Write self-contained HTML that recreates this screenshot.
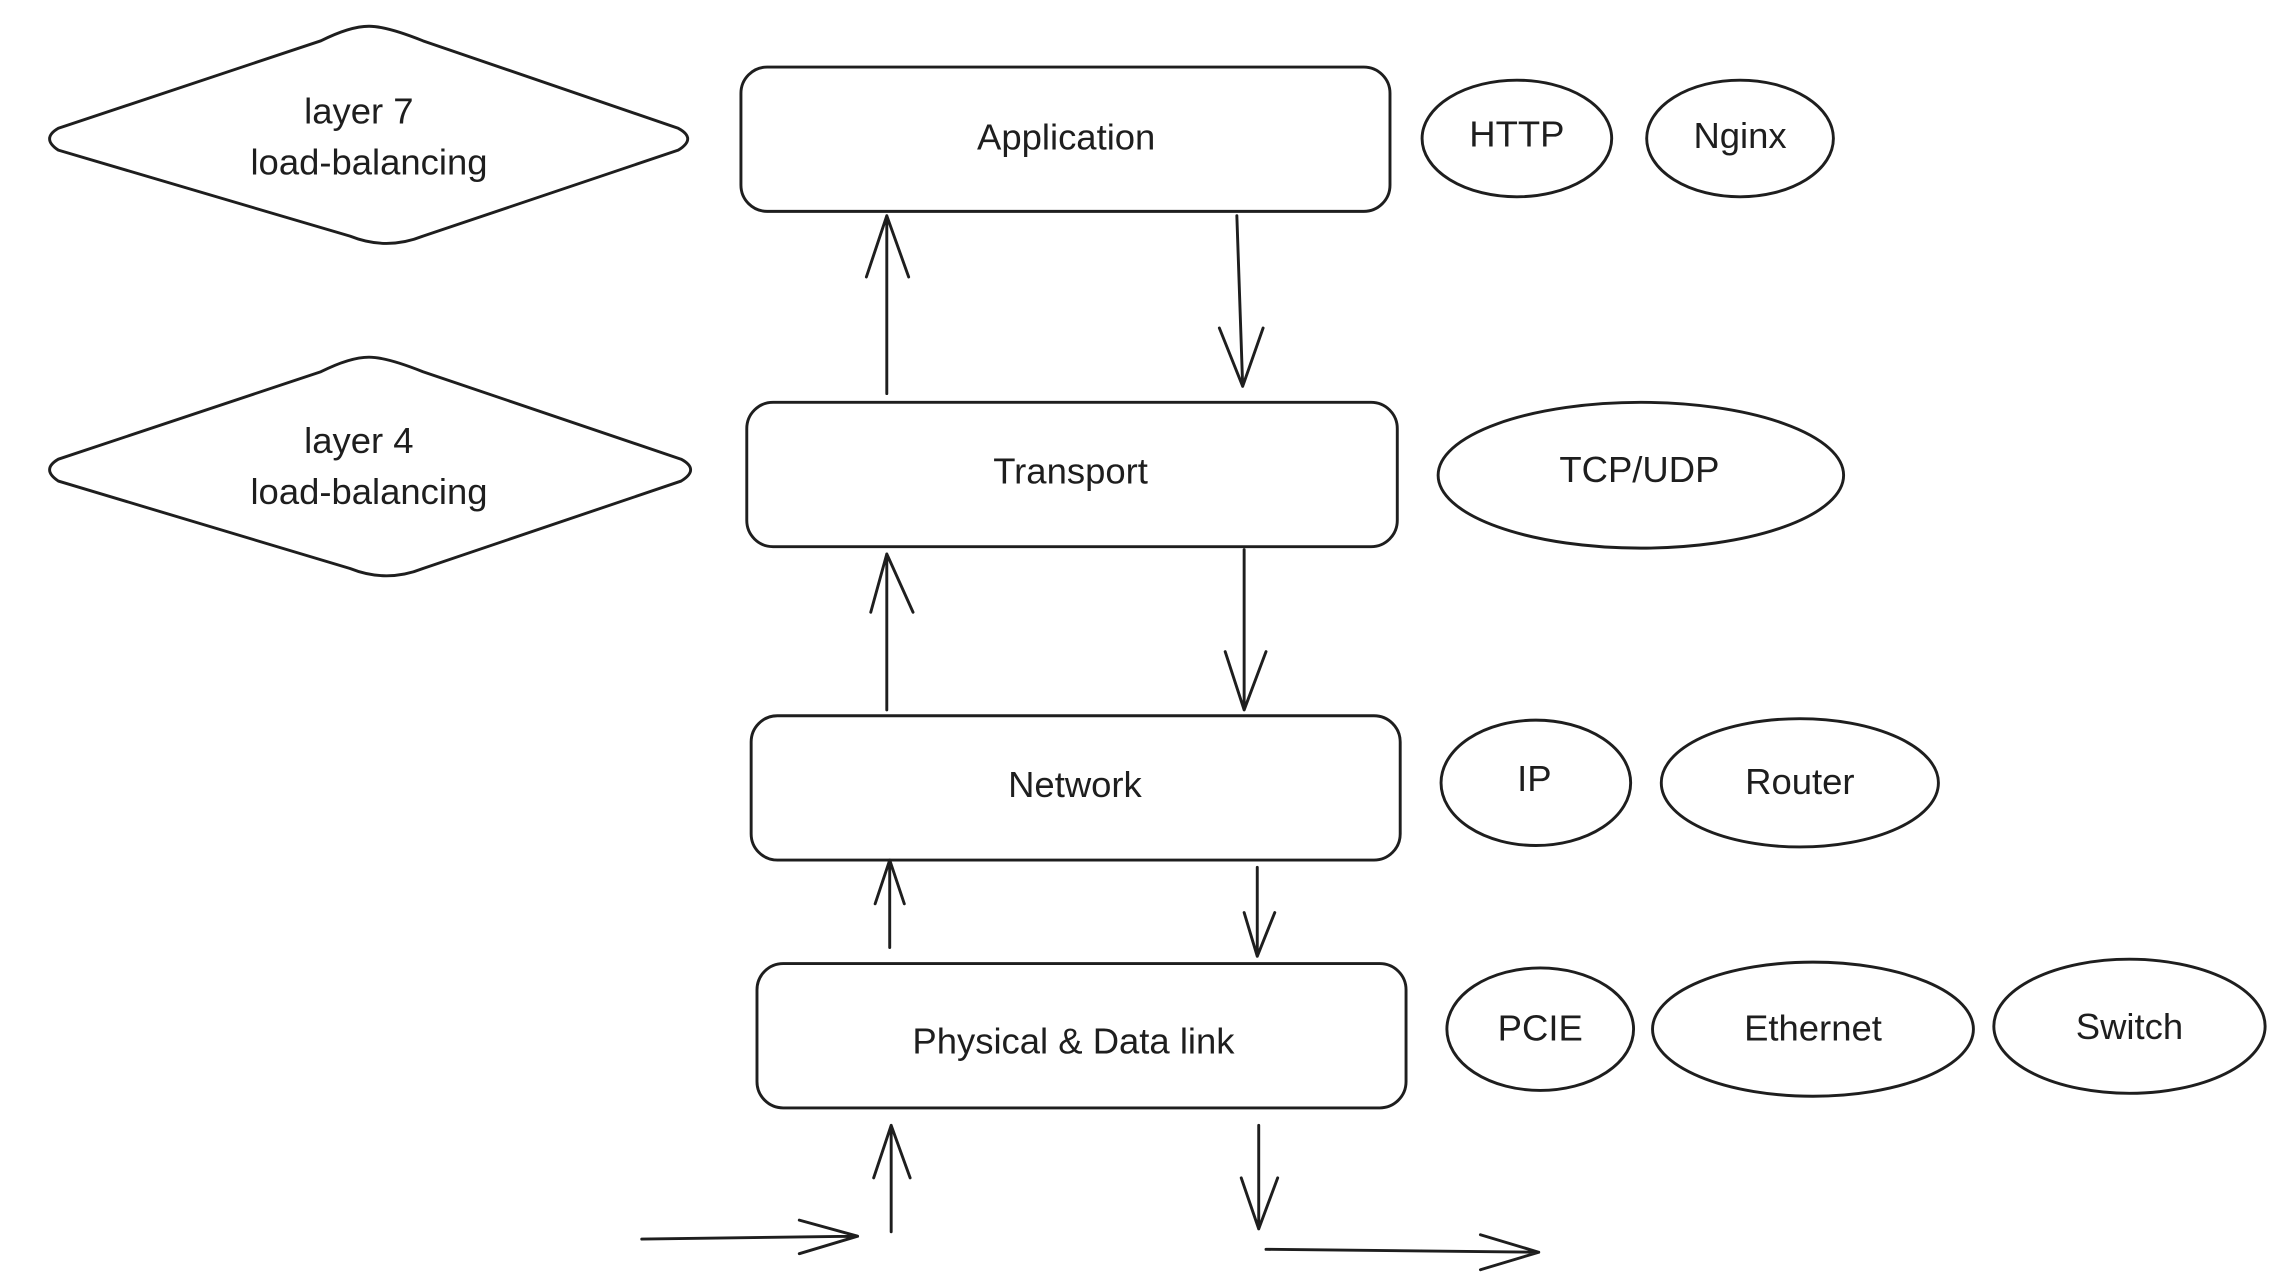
<!DOCTYPE html>
<html><head><meta charset="utf-8"><style>
html,body{margin:0;padding:0;background:#fff;width:2287px;height:1277px;overflow:hidden}
svg{display:block}
text{font-family:"Liberation Sans",sans-serif;font-size:25px;fill:#1e1e1e;text-anchor:middle;dominant-baseline:middle}
</style></head><body>
<svg width="2287" height="1277" viewBox="0 0 1568 876" preserveAspectRatio="none" xmlns="http://www.w3.org/2000/svg">
<g fill="none" stroke="#1e1e1e" stroke-width="2" stroke-linecap="round" stroke-linejoin="round">
<!-- diamonds -->
<path d="M253 18 Q265 18 290 28 L465 88 Q478 95 465 103 L290 162 Q265 172 240 162 L40 103 Q28 95 40 88 L220 28 Q240 18 253 18 Z"/>
<path d="M253 245 Q265 245 290 255 L467 315 Q480 322 467 330 L290 390 Q265 400 240 390 L40 330 Q28 322 40 315 L220 255 Q240 245 253 245 Z"/>
<!-- boxes -->
<rect x="508" y="46" width="445" height="99" rx="18"/>
<rect x="512" y="276" width="446" height="99" rx="18"/>
<rect x="515" y="491" width="445" height="99" rx="18"/>
<rect x="519" y="661" width="445" height="99" rx="18"/>
<!-- ellipses -->
<ellipse cx="1040" cy="95" rx="65" ry="40"/>
<ellipse cx="1193" cy="95" rx="64" ry="40"/>
<ellipse cx="1125" cy="326" rx="139" ry="50"/>
<ellipse cx="1053" cy="537" rx="65" ry="43"/>
<ellipse cx="1234" cy="537" rx="95" ry="44"/>
<ellipse cx="1056" cy="706" rx="64" ry="42"/>
<ellipse cx="1243" cy="706" rx="110" ry="46"/>
<ellipse cx="1460" cy="704" rx="93" ry="46"/>
<!-- arrows -->
<path d="M608 270 L608 148 M594 190 L608 148 L623 190"/>
<path d="M848 148 L852 265 M836 225 L852 265 L866 225"/>
<path d="M608 487 L608 380 M597 420 L608 380 L626 420"/>
<path d="M853 377 L853 487 M840 447 L853 487 L868 447"/>
<path d="M610 650 L610 590 M600 620 L610 590 L620 620"/>
<path d="M862 595 L862 656 M853 626 L862 656 L874 626"/>
<path d="M611 845 L611 772 M599 808 L611 772 L624 808"/>
<path d="M863 772 L863 843 M851 808 L863 843 L876 808"/>
<path d="M440 850 L588 848 M548 837 L588 848 L548 860"/>
<path d="M868 857 L1055 859 M1015 847 L1055 859 L1015 871"/>
</g>
<text x="246" y="78">layer 7</text>
<text x="253" y="113">load-balancing</text>
<text x="246" y="304">layer 4</text>
<text x="253" y="339">load-balancing</text>
<text x="731" y="96">Application</text>
<text x="734" y="325">Transport</text>
<text x="737" y="540">Network</text>
<text x="736" y="716">Physical &amp; Data link</text>
<text x="1040" y="94">HTTP</text>
<text x="1193" y="95">Nginx</text>
<text x="1124" y="324">TCP/UDP</text>
<text x="1052" y="536">IP</text>
<text x="1234" y="538">Router</text>
<text x="1056" y="707">PCIE</text>
<text x="1243" y="707">Ethernet</text>
<text x="1460" y="706">Switch</text>
</svg>
</body></html>
